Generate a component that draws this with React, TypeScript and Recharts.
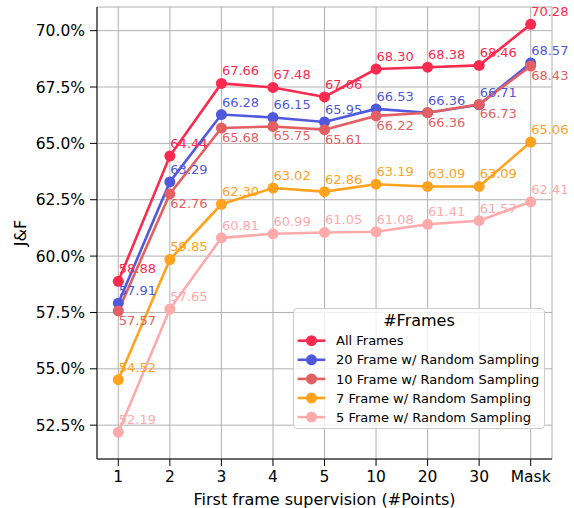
import React from 'react';
import { LineChart, Line, XAxis, YAxis, CartesianGrid, Legend, LabelList, Label } from 'recharts';

const categories = ['1', '2', '3', '4', '5', '10', '20', '30', 'Mask'];
const allFrames = [58.88, 64.44, 67.66, 67.48, 67.06, 68.3, 68.38, 68.46, 70.28];
const frame20 = [57.91, 63.29, 66.28, 66.15, 65.95, 66.53, 66.36, 66.71, 68.57];
const frame10 = [57.57, 62.76, 65.68, 65.75, 65.61, 66.22, 66.36, 66.73, 68.43];
const frame7 = [54.52, 59.85, 62.3, 63.02, 62.86, 63.19, 63.09, 63.09, 65.06];
const frame5 = [52.19, 57.65, 60.81, 60.99, 61.05, 61.08, 61.41, 61.57, 62.41];
const yTicks = [52.5, 55, 57.5, 60, 62.5, 65, 67.5, 70];

const series = [
  { key: 'all', name: 'All Frames', values: allFrames, color: '#fb2a4e', below: false },
  { key: 'f20', name: '20 Frame w/ Random Sampling', values: frame20, color: '#5059dc', below: false },
  { key: 'f10', name: '10 Frame w/ Random Sampling', values: frame10, color: '#e45f63', below: true },
  { key: 'f7', name: '7 Frame w/ Random Sampling', values: frame7, color: '#ffa21d', below: false },
  { key: 'f5', name: '5 Frame w/ Random Sampling', values: frame5, color: '#ffaaaa', below: false },
];
const seriesOrder = series.map((s) => s.name);

const data = categories.map((cat, i) => {
  const row: any = { cat };
  series.forEach((s) => { row[s.key] = s.values[i]; });
  return row;
});

const FONT = 'DejaVu Sans, sans-serif';
const PAD = { left: 21.3, right: 21.3 };
const Y_DOMAIN: [number, number] = [51.0, 71.05];

const makeLabel = (color: string, below: boolean) => (props: any) => {
  const { x, y, value } = props;
  return (
    <text x={x + 0.5} y={below ? y + 14 : y - 8} fill={color} fontSize={13} fontFamily={FONT} textAnchor="start">
      {Number(value).toFixed(2)}
    </text>
  );
};

const LegendBox = (props: any) => {
  const payload = [...((props.payload || []) as any[])].sort(
    (a, b) => seriesOrder.indexOf(a.value) - seriesOrder.indexOf(b.value)
  );
  const w = 252;
  const h = 121;
  return (
    <div style={{ width: w, height: h, boxSizing: 'border-box', border: '1px solid #cccccc', borderRadius: 4, background: 'rgba(255,255,255,0.8)' }}>
      <svg width={w - 2} height={h - 2} style={{ display: 'block' }}>
        <text x={(w - 2) / 2} y={17} textAnchor="middle" fontSize={16} fontFamily={FONT} fill="#000">#Frames</text>
        {payload.map((p: any, i: number) => {
          const cy = 31.7 + i * 19.1;
          return (
            <g key={p.value}>
              <line x1={3.6} x2={31.3} y1={cy} y2={cy} stroke={p.color} strokeWidth={2.6} />
              <circle cx={17.5} cy={cy} r={5.5} fill={p.color} />
              <text x={42} y={cy + 4.6} fontSize={13} fontFamily={FONT} fill="#000">{p.value}</text>
            </g>
          );
        })}
      </svg>
    </div>
  );
};

export default function App() {
  return (
    <div style={{ position: 'absolute', left: 0, top: 0, fontFamily: FONT, background: '#fff' }}>
      <LineChart width={574} height={508} data={data} margin={{ top: 7, right: 22, bottom: 0, left: 0 }}>
        <CartesianGrid stroke="#b0b0b0" strokeWidth={1} />
        <XAxis
          dataKey="cat"
          padding={PAD}
          height={49}
          tickSize={7}
          tickMargin={5}
          interval={0}
          tick={{ fontSize: 15.5, fill: '#000', fontFamily: FONT }}
          axisLine={{ stroke: '#000', strokeWidth: 1 }}
          tickLine={{ stroke: '#000', strokeWidth: 1 }}
        >
          <Label value="First frame supervision (#Points)" position="insideBottom" offset={3} style={{ fontSize: 16, fill: '#000', fontFamily: FONT }} />
        </XAxis>
        <XAxis xAxisId="top" orientation="top" dataKey="cat" padding={PAD} height={0} tick={false} tickLine={false} axisLine={{ stroke: '#000', strokeWidth: 1 }} />
        <YAxis
          width={97}
          type="number"
          domain={Y_DOMAIN}
          allowDataOverflow
          ticks={yTicks}
          tickFormatter={(v: number) => `${v.toFixed(1)}%`}
          tickSize={7}
          tickMargin={5}
          tick={{ fontSize: 15.5, fill: '#000', fontFamily: FONT }}
          axisLine={{ stroke: '#000', strokeWidth: 1 }}
          tickLine={{ stroke: '#000', strokeWidth: 1 }}
        >
          <Label value="J&F" angle={-90} position="insideLeft" offset={20} style={{ fontSize: 16, fill: '#000', fontFamily: FONT, textAnchor: 'middle' }} />
        </YAxis>
        <YAxis yAxisId="right" orientation="right" width={0} type="number" domain={Y_DOMAIN} allowDataOverflow tick={false} tickLine={false} axisLine={{ stroke: '#000', strokeWidth: 1 }} />
        <Legend
          layout="vertical"
          align="center"
          verticalAlign="middle"
          itemSorter={null as any}
          content={LegendBox}
          wrapperStyle={{ left: 292.7, top: 308.3, width: 252, height: 121 }}
        />
        {series.map((s) => (
          <Line
            key={s.key}
            type="linear"
            dataKey={s.key}
            name={s.name}
            stroke={s.color}
            strokeWidth={2.6}
            dot={{ r: 5.5, fill: s.color, stroke: s.color, strokeWidth: 0 }}
            activeDot={false}
            isAnimationActive={false}
          >
            <LabelList dataKey={s.key} content={makeLabel(s.color, s.below)} />
          </Line>
        ))}
      </LineChart>
    </div>
  );
}
